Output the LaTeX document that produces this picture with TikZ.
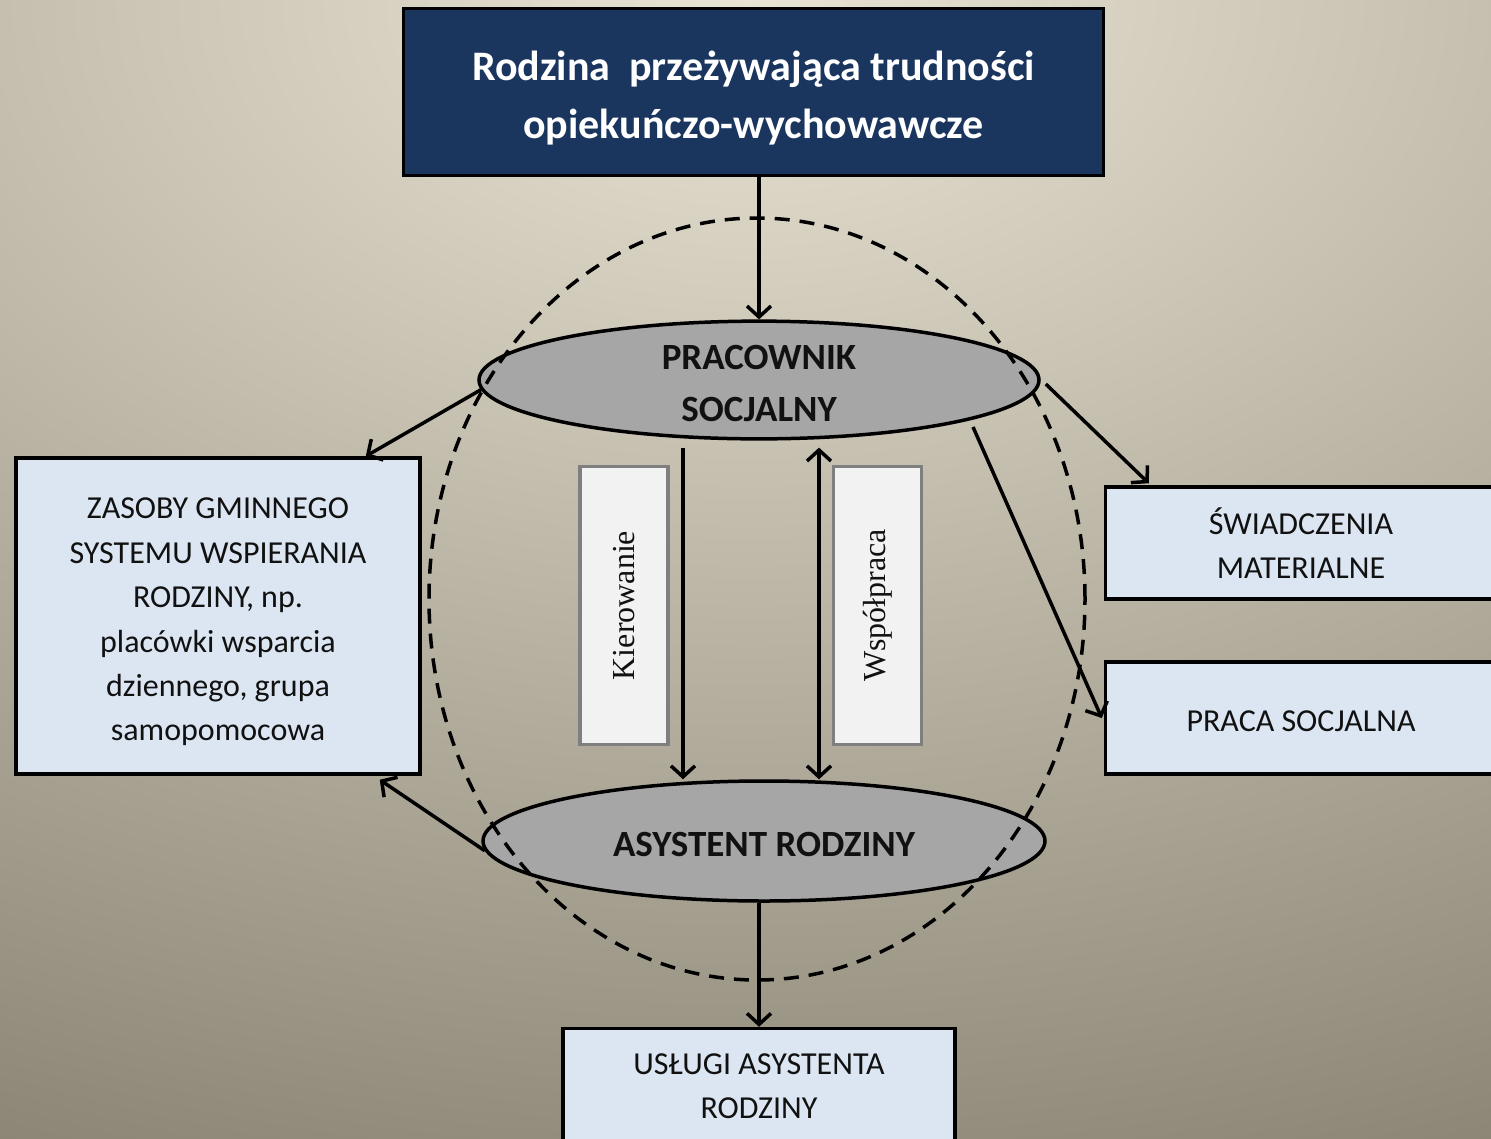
\documentclass[tikz,border=0pt]{standalone}
\usepackage{fontspec}
\setmainfont{Carlito}
\newfontfamily\tnr{Liberation Serif}
\usetikzlibrary{shapes.geometric,arrows.meta,calc}
\definecolor{navy}{HTML}{1B365E}
\definecolor{ellg}{HTML}{A6A6A6}
\definecolor{boxb}{HTML}{DCE6F2}
\definecolor{boxw}{HTML}{F2F2F2}
\definecolor{boxedge}{HTML}{7F7F7F}
\definecolor{ink}{HTML}{111111}
\definecolor{bgin}{RGB}{233,227,212}
\definecolor{bgout}{RGB}{113,107,92}
\pgfdeclareradialshading{bgshade}{\pgfpoint{0bp}{0bp}}{color(0bp)=(bgin); color(25bp)=(bgout); color(50bp)=(bgout)}
\tikzset{
  titlebox/.style={draw=black, line width=3.5pt, fill=navy, text=white, align=center,
    font=\bfseries\fontsize{42}{58}\selectfont, minimum width=700pt, minimum height=167pt, inner sep=0pt},
  ellnode/.style={ellipse, draw=black, line width=3.5pt, fill=ellg, text=ink, align=center,
    font=\bfseries\fontsize{37}{52}\selectfont, inner sep=0pt},
  bluebox/.style={draw=black, line width=3.5pt, fill=boxb, text=ink, align=center,
    font=\fontsize{32}{44.4}\selectfont, inner sep=0pt},
  labelbox/.style={draw=boxedge, line width=3.5pt, fill=boxw, text=ink, rotate=90,
    font=\tnr\fontsize{32}{36}\selectfont, inner sep=0pt, minimum width=278pt, minimum height=88pt},
  conn/.style={line width=3.5pt, draw=black, -{Straight Barb[length=11pt,width=24pt]}},
  dconn/.style={line width=3.5pt, draw=black, {Straight Barb[length=11pt,width=24pt]}-{Straight Barb[length=11pt,width=24pt]}},
  ring/.style={ellipse, draw=black, line width=3.5pt, dash pattern=on 15pt off 10pt, inner sep=0pt,
    minimum width=656pt, minimum height=762pt}
}
\begin{document}
\begin{tikzpicture}[x=1pt,y=-1pt]
\useasboundingbox (0,0) rectangle (1491,1138);
\begin{scope}
\clip (0,0) rectangle (1491,1138);
\shade[shading=bgshade] (750,0) ellipse [x radius=2496pt, y radius=1596pt];
\end{scope}

\node[titlebox] (t) at (753.5,92) {\rule{0pt}{41pt}Rodzina\ \ przeżywająca trudności\\opiekuńczo-wychowawcze};

\node[ellnode, minimum width=560pt, minimum height=116pt] (ps) at (759,380) {\rule{0pt}{31pt}PRACOWNIK\\SOCJALNY};
\node[ellnode, minimum width=562pt, minimum height=120pt] (as) at (764,841) {\rule{0pt}{31pt}ASYSTENT RODZINY};

\node[labelbox] (kb) at (624,605.5) {Kierowanie};
\node[labelbox] (wb) at (877.5,605.5) {Współpraca};

\node[bluebox, minimum width=404pt, minimum height=316pt] (lb) at (218,616)
  {\rule{0pt}{33pt}ZASOBY GMINNEGO\\SYSTEMU WSPIERANIA\\RODZINY, np.\\placówki wsparcia\\dziennego, grupa\\samopomocowa};
\node[bluebox, minimum width=391pt, minimum height=112pt] (rb1) at (1301,543) {ŚWIADCZENIA\\MATERIALNE};
\node[bluebox, minimum width=391pt, minimum height=112pt] (rb2) at (1301,718) {\rule{0pt}{27pt}PRACA SOCJALNA};
\node[bluebox, minimum width=392pt, minimum height=115pt] (bb) at (759,1086) {USŁUGI ASYSTENTA\\RODZINY};

\node[ring] (ring) at (757,599) {};

\draw[conn] ([xshift=5.5pt]t.south) -- (ps.north);
\draw[conn, shorten <=7pt] ([xshift=-76pt]ps.south) -- ([xshift=-81pt]as.north);
\draw[dconn, shorten <=7pt] ([xshift=60pt]ps.south) -- ([xshift=55pt]as.north);
\draw[conn] (ps.182) -- ([xshift=-56pt]lb.north east);
\draw[conn] (as.182) -- ([xshift=-42pt,yshift=-4pt]lb.south east);
\draw[conn] ([xshift=5pt,yshift=-4pt]ps.east) -- ([xshift=45pt,yshift=2pt]rb1.north west);
\draw[conn] ([xshift=214pt,yshift=-47pt]ps.center) -- ([xshift=-2pt]rb2.west);
\draw[conn] (as.south -| bb.north) -- (bb.north);
\end{tikzpicture}
\end{document}
